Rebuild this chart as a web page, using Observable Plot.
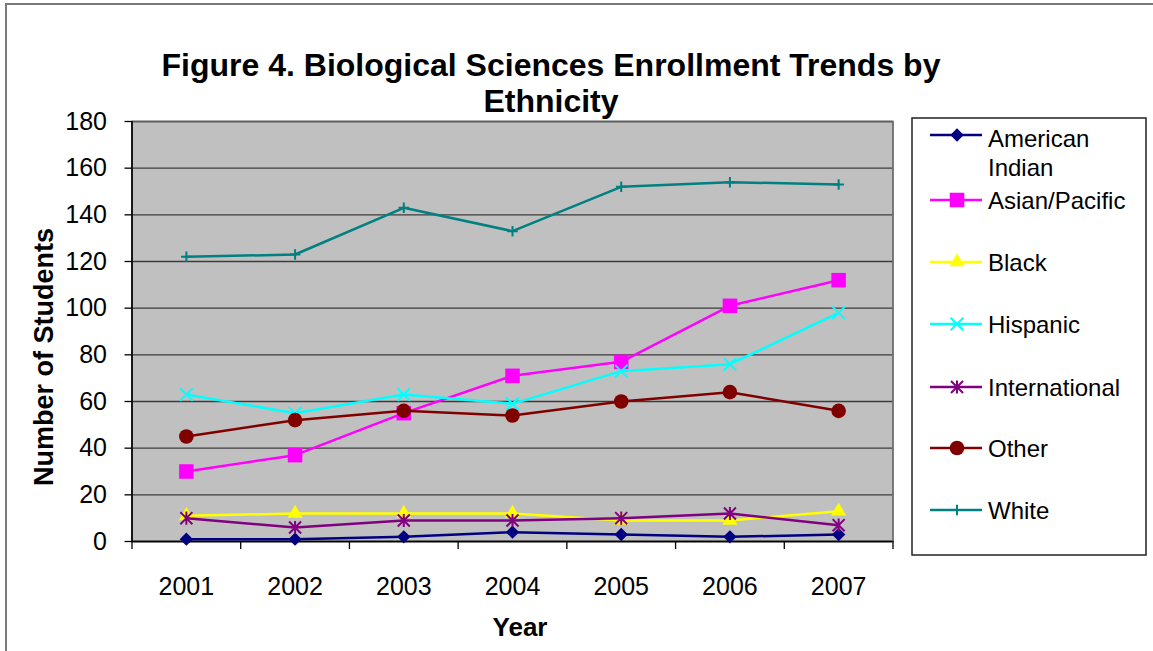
<!DOCTYPE html>
<html><head><meta charset="utf-8">
<script src="https://cdn.jsdelivr.net/npm/d3@7"></script>
<script src="https://cdn.jsdelivr.net/npm/@observablehq/plot@0.6"></script>
<style>
body{margin:0;background:#fff;}
#wrap{position:relative;width:1153px;height:651px;overflow:hidden;font-family:"Liberation Sans",Arial,Helvetica,sans-serif;color:#000;}
#frame{position:absolute;left:5px;top:3px;width:1200px;height:700px;border-top:2px solid #7a7a7a;border-left:2px solid #7a7a7a;}
#chart{position:absolute;left:0;top:0;}
#title{position:absolute;left:151px;width:800px;top:47px;text-align:center;font-weight:bold;font-size:32px;line-height:36px;white-space:nowrap;}
#ylabel{position:absolute;left:44px;top:357px;transform:translate(-50%,-50%) rotate(-90deg);font-weight:bold;font-size:27px;white-space:nowrap;}
#xlabel{position:absolute;left:520px;top:627px;transform:translate(-50%,-50%);font-weight:bold;font-size:26px;white-space:nowrap;}
#legend{position:absolute;left:911px;top:117px;}
</style>
</head>
<body>
<div id="wrap">
  <div id="frame"></div>
  <div id="chart"></div>
  <div id="title">Figure 4. Biological Sciences Enrollment Trends by<br>Ethnicity</div>
  <div id="ylabel">Number of Students</div>
  <div id="xlabel">Year</div>
  <div id="legend"></div>
</div>
<script>
// ---- data ----
const years = [2001, 2002, 2003, 2004, 2005, 2006, 2007];
const yTicks = [0, 20, 40, 60, 80, 100, 120, 140, 160, 180];
const seriesNames = ["American Indian", "Asian/Pacific", "Black", "Hispanic", "International", "Other", "White"];
const americanIndian = [1, 1, 2, 4, 3, 2, 3];
const asianPacific = [30, 37, 55, 71, 77, 101, 112];
const black = [11, 12, 12, 12, 9, 9, 13];
const hispanic = [63, 55, 63, 59, 73, 76, 98];
const international = [10, 6, 9, 9, 10, 12, 7];
const other = [45, 52, 56, 54, 60, 64, 56];
const white = [122, 123, 143, 133, 152, 154, 153];
const seriesValues = [americanIndian, asianPacific, black, hispanic, international, other, white];
const seriesColors = ["#000080", "#ff00ff", "#ffff00", "#00ffff", "#800080", "#800000", "#008080"];

// ---- styles ----
const asteriskSymbol = {
  draw(ctx, size) {
    const r = Math.sqrt(size) * 0.565;
    const v = r * 1.1;
    ctx.moveTo(-r, -r); ctx.lineTo(r, r);
    ctx.moveTo(-r, r); ctx.lineTo(r, -r);
    ctx.moveTo(0, -v); ctx.lineTo(0, v);
  }
};
const markerStyles = [
  {symbol: "diamond2", d3sym: d3.symbolDiamond2, r: 6, filled: true},
  {symbol: "square", d3sym: d3.symbolSquare, r: 8.2, filled: true},
  {symbol: "triangle", d3sym: d3.symbolTriangle, r: 5.6, filled: true},
  {symbol: "times", d3sym: d3.symbolTimes, r: 5.8, filled: false},
  {symbol: asteriskSymbol, d3sym: asteriskSymbol, r: 6, filled: false},
  {symbol: "circle", d3sym: d3.symbolCircle, r: 7.3, filled: true},
  {symbol: "plus", d3sym: d3.symbolPlus, r: 3.5, filled: false}
];

const table = seriesNames.flatMap((name, i) =>
  years.map((year, j) => ({series: name, year, value: seriesValues[i][j]})));
const boundaries = years.map(y => y - 0.5).concat([years[years.length - 1] + 0.5]);
const xMin = years[0] - 0.5, xMax = years[years.length - 1] + 0.5;

const seriesMarks = seriesNames.flatMap((name, i) => {
  const d = table.filter(t => t.series === name);
  const m = markerStyles[i];
  const c = seriesColors[i];
  return [
    Plot.line(d, {x: "year", y: "value", stroke: c, strokeWidth: 2.5}),
    Plot.dot(d, {x: "year", y: "value", symbol: m.symbol, r: m.r,
      fill: m.filled ? c : "none", stroke: m.filled ? "none" : c, strokeWidth: 2})
  ];
});

const chart = Plot.plot({
  width: 1153, height: 651,
  marginLeft: 131.5, marginRight: 260.5, marginTop: 121, marginBottom: 110,
  style: {fontFamily: '"Liberation Sans", Arial, Helvetica, sans-serif', fontSize: "25px", background: "transparent", color: "#000", overflow: "visible"},
  x: {type: "linear", domain: [xMin, xMax]},
  y: {domain: [0, 180]},
  marks: [
    Plot.frame({fill: "#c0c0c0", stroke: null}),
    Plot.gridY(yTicks, {stroke: "#3c3c3c", strokeOpacity: 1, strokeWidth: 1.4}),
    Plot.frame({stroke: "#606060", strokeWidth: 1.6, fill: "none"}),
    Plot.ruleX([xMin], {stroke: "#000", strokeWidth: 1.6}),
    Plot.ruleY([0], {stroke: "#000", strokeWidth: 1.6}),
    Plot.axisY(yTicks, {tickSize: 7, tickPadding: 18, fontSize: 25, label: null, stroke: "#000", strokeWidth: 1.3}),
    Plot.axisX(years, {tickSize: 0, tickPadding: 36, fontSize: 25, label: null, tickFormat: d => String(d)}),
    Plot.axisX(boundaries, {tickSize: 8, fill: "none", label: null, stroke: "#000", strokeWidth: 1.3}),
    ...seriesMarks
  ]
});
document.getElementById("chart").appendChild(chart);

// ---- legend ----
const lw = 236, lh = 439;
const svg = d3.select("#legend").append("svg")
  .attr("width", lw).attr("height", lh)
  .style("font-family", '"Liberation Sans", Arial, Helvetica, sans-serif');
svg.append("rect").attr("x", 1).attr("y", 1).attr("width", lw - 2).attr("height", lh - 2)
  .attr("fill", "#fff").attr("stroke", "#222").attr("stroke-width", 1.5);
const rowY = [18, 83, 145, 207, 270, 331, 393];
seriesNames.forEach((name, i) => {
  const y = rowY[i];
  const m = markerStyles[i], c = seriesColors[i];
  const g = svg.append("g");
  g.append("line").attr("x1", 19).attr("x2", 71).attr("y1", y).attr("y2", y)
    .attr("stroke", c).attr("stroke-width", 2.5);
  g.append("path")
    .attr("d", d3.symbol(m.d3sym, m.r * m.r * Math.PI)())
    .attr("transform", `translate(46,${y})`)
    .attr("fill", m.filled ? c : "none")
    .attr("stroke", m.filled ? "none" : c)
    .attr("stroke-width", 2);
  const parts = name === "American Indian" ? ["American", "Indian"] : [name];
  const t = g.append("text").attr("x", 77).attr("y", y + (parts.length > 1 ? 4 : 1))
    .attr("font-size", 24).attr("fill", "#000");
  parts.forEach((p, k) => {
    t.append("tspan").attr("x", 77).attr("dy", k === 0 ? "0.35em" : "1.2em").text(p);
  });
});
</script>
</body></html>
